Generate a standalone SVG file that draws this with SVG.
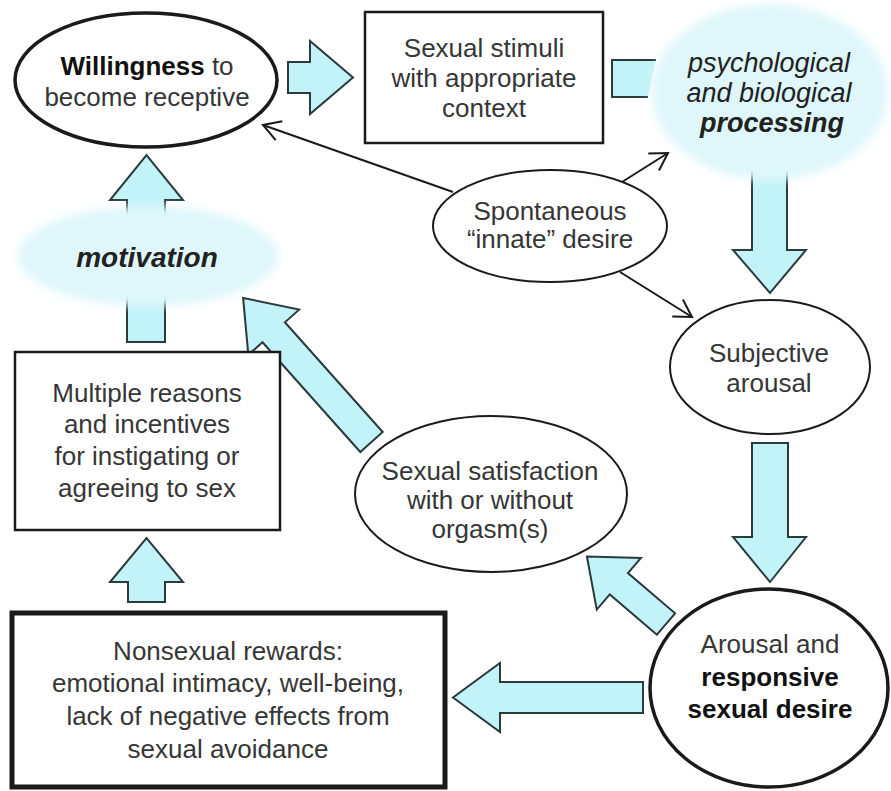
<svg xmlns="http://www.w3.org/2000/svg" width="891" height="791" viewBox="0 0 891 791">
<style>
.bg{fill:#ffffff}
.node{fill:#ffffff;stroke:#1a1a1a}
.thin{stroke-width:2}
.thick{stroke-width:3.5}
.cloud{fill:#dff7fb;filter:url(#soft)}
.arr{fill:#c2f3f8;stroke:#2b3a3c;stroke-width:2;stroke-linejoin:miter}
.line{fill:none;stroke:#1a1a1a;stroke-width:2;marker-end:url(#open)}
text{font-family:"Liberation Sans",Arial,sans-serif;font-size:26px;fill:#363636;text-anchor:middle}
.b{font-weight:bold;fill:#111111}
.it{font-style:italic;fill:#222222;font-size:27px}
</style>
<defs>
<filter id="soft" x="-20%" y="-20%" width="140%" height="140%">
<feGaussianBlur stdDeviation="5"/>
</filter>
<marker id="open" viewBox="-20 -12 24 24" refX="0" refY="0" markerWidth="24" markerHeight="24" markerUnits="userSpaceOnUse" orient="auto">
<path d="M-17,-10 L0,0 L-17,10" fill="none" stroke="#1a1a1a" stroke-width="2"/>
</marker>
</defs>
<rect class="bg" x="0" y="0" width="891" height="791"/>

<g id="connectors">
<polygon id="a-will-stim" class="arr" points="288,62 310,62 310,41 353,77.5 310,114 310,93 288,93"/>
<path id="a-stim-proc" class="arr" d="M656,60 H612 V97 H648"/>
<path id="a-proc-subj" class="arr" d="M752,168 V250 H733 L770,293 L806,250 H787 V168"/>
<polygon id="a-subj-arousal" class="arr" points="752,443 788,443 788,537 806,537 770,582 733,537 752,537"/>
<polygon id="a-arousal-nonsex" class="arr" points="643,682 500,682 500,663 453,697.5 500,732 500,713 643,713"/>
<path id="a-arousal-sat" class="arr" transform="translate(666,624) rotate(220.5)" d="M0,-14 H62 V-34 L104,0 L62,34 V14 H0 Z"/>
<polygon id="a-nonsex-mult" class="arr" points="128,602 128,582 110,582 146.5,538 183,582 165,582 165,602"/>
<polygon id="a-mult-will" class="arr" points="127,342 127,200 110,200 146.5,155 183,200 165,200 165,342"/>
<line id="l-spont-will" class="line" x1="453" y1="192" x2="263" y2="125"/>
<line id="l-spont-proc" class="line" x1="622" y1="182" x2="668" y2="153"/>
<line id="l-spont-subj" class="line" x1="620" y1="272" x2="692" y2="317"/>
</g>

<g id="processing">
<ellipse class="cloud" cx="770" cy="92" rx="118" ry="88"/>
<text class="it" x="769" y="72">psychological</text>
<text class="it" x="769" y="102">and biological</text>
<text class="it b" x="772" y="132">processing</text>
</g>

<g id="motivation">
<ellipse class="cloud" cx="148" cy="256" rx="130" ry="50"/>
<text class="it b" x="147" y="267" style="font-size:28px">motivation</text>
</g>

<path id="a-sat-motiv" class="arr" transform="translate(371.5,442) rotate(228.3)" d="M0,-15 H147 V-34 L193,0 L147,34 V15 H0 Z"/>

<g id="willingness">
<ellipse class="node thick" cx="146" cy="80" rx="131" ry="67"/>
<text x="147" y="75"><tspan class="b">Willingness</tspan> to</text>
<text x="147" y="106">become receptive</text>
</g>

<g id="stimuli">
<rect class="node" style="stroke-width:2.5" x="365" y="12" width="238" height="131"/>
<text x="484" y="57">Sexual stimuli</text>
<text x="484" y="87">with appropriate</text>
<text x="484" y="117">context</text>
</g>

<g id="spontaneous">
<ellipse class="node thin" cx="550" cy="226" rx="117" ry="56"/>
<text x="550" y="220">Spontaneous</text>
<text x="550" y="248">&#8220;innate&#8221; desire</text>
</g>

<g id="subjective">
<ellipse class="node thin" cx="770" cy="367" rx="100" ry="67"/>
<text x="769" y="362">Subjective</text>
<text x="769" y="392">arousal</text>
</g>

<g id="multiple">
<rect class="node" style="stroke-width:2.5" x="15" y="352" width="265" height="178"/>
<text x="147" y="402">Multiple reasons</text>
<text x="147" y="433">and incentives</text>
<text x="147" y="465">for instigating or</text>
<text x="147" y="497">agreeing to sex</text>
</g>

<g id="satisfaction">
<ellipse class="node thin" cx="491" cy="494" rx="136" ry="78"/>
<text x="490" y="480">Sexual satisfaction</text>
<text x="490" y="509">with or without</text>
<text x="490" y="538">orgasm(s)</text>
</g>

<g id="arousal">
<ellipse class="node thick" cx="769" cy="688" rx="119" ry="99"/>
<text x="770" y="653">Arousal and</text>
<text class="b" x="770" y="686">responsive</text>
<text class="b" x="770" y="718">sexual desire</text>
</g>

<g id="nonsexual">
<rect class="node" style="stroke-width:5" x="12" y="613" width="433" height="174"/>
<text x="228" y="660">Nonsexual rewards:</text>
<text x="228" y="692">emotional intimacy, well-being,</text>
<text x="228" y="725">lack of negative effects from</text>
<text x="228" y="758">sexual avoidance</text>
</g>
</svg>
